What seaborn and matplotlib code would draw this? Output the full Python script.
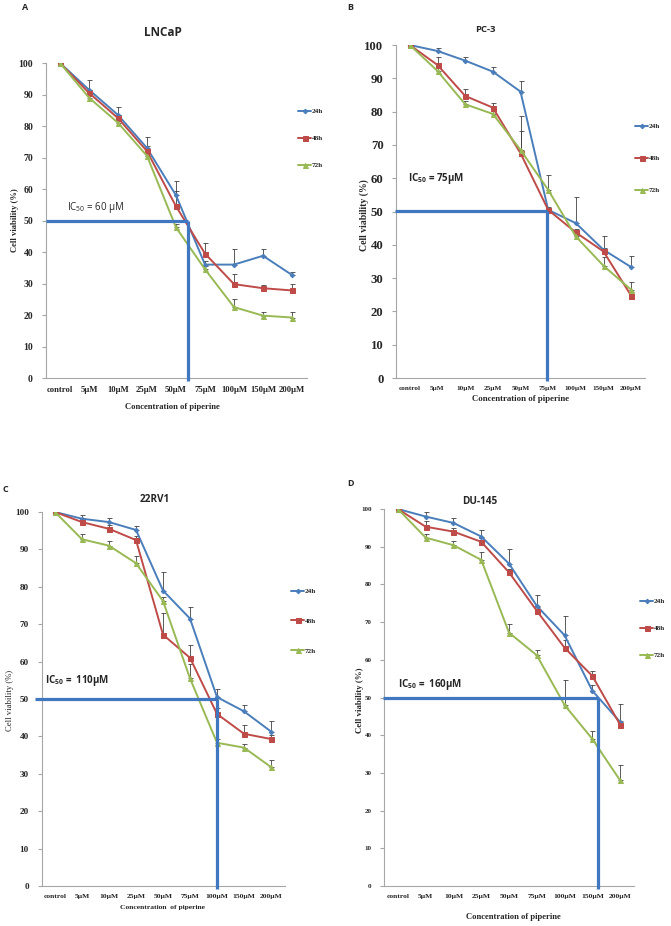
import numpy as np
import pandas as pd
import seaborn as sns
import matplotlib.pyplot as plt

# concentrations on the x axis
concs = ['control', '5µM', '10µM', '25µM', '50µM', '75µM', '100µM', '150µM', '200µM']
times = ['24h', '48h', '72h']

# cell viability (%), one list per time point
lncap_24 = [100, 91.5, 83.5, 73, 58, 36, 36, 38.8, 32.7]
lncap_48 = [100, 90.5, 82.5, 72, 54.5, 39.5, 29.8, 28.5, 27.8]
lncap_72 = [100, 89, 81, 70.5, 47.8, 34.5, 22.5, 19.8, 19.2]
lncap_err_24 = [0.5, 3, 2.5, 3.5, 4.5, 1, 5, 2, 1]
lncap_err_48 = [0.5, 1, 1, 1.5, 5, 3.2, 3.2, 1, 2.2]
lncap_err_72 = [0.5, 1, 1, 1, 1, 1, 2.5, 1.2, 1.8]

pc3_24 = [100, 98.2, 95.3, 92, 86, 50.5, 46.5, 38.5, 33.3]
pc3_48 = [100, 94, 84.7, 81.2, 67.5, 50.5, 43.7, 38, 24.7]
pc3_72 = [100, 92.2, 82.2, 79.3, 68.5, 56.5, 42.5, 33.7, 26.5]
pc3_err_24 = [0.3, 0.8, 1, 1.5, 3.2, 0.5, 7.8, 4, 3.2]
pc3_err_48 = [0.5, 2.5, 2, 1.5, 6.8, 1, 1, 1, 1]
pc3_err_72 = [0.5, 1, 1, 1, 10.3, 4.5, 1, 2.5, 2.2]

rv1_24 = [100, 98.2, 97.3, 95.2, 79, 71.5, 50.5, 46.7, 41.3]
rv1_48 = [100, 97.3, 95.5, 92.5, 67.2, 61, 46, 40.7, 39.3]
rv1_72 = [100, 92.7, 91, 86.3, 76.2, 55.5, 38.3, 37, 31.8]
rv1_err_24 = [0.5, 1, 1.2, 1, 5, 3.2, 2.2, 1.6, 2.9]
rv1_err_48 = [0.5, 1, 1, 1, 5.8, 3.5, 1.5, 2.3, 1]
rv1_err_72 = [0.5, 1.5, 1.3, 2, 1, 3.8, 1, 1, 2]

du_24 = [100, 98, 96.3, 92.7, 85.5, 74.3, 66.5, 51.8, 43.5]
du_48 = [100, 95.3, 94, 91.3, 83.2, 73, 63.2, 55.7, 42.8]
du_72 = [100, 92.4, 90.4, 86.5, 67.2, 61.2, 48, 39, 28]
du_err_24 = [0.3, 1.3, 1.2, 1.8, 4, 2.8, 5.2, 1.5, 4.7]
du_err_48 = [0.3, 1.5, 1, 1, 1, 1, 2, 1.3, 1]
du_err_72 = [0.3, 1, 1.2, 2, 2.3, 1.3, 6.6, 2.2, 4.2]

# IC50 guide: x position (category index) and viability level
ic50_x = [4.41, 4.96, 6.0, 7.2]
ic50_y = [49.7, 50.2, 50, 50]
ic50_text = [r'IC$_{\mathregular{50}}$ = 60 µM', r'IC$_{\mathregular{50}}$ = 75µM',
             r'IC$_{\mathregular{50}}$ =  110µM', r'IC$_{\mathregular{50}}$ =  160µM']
cell_lines = ['LNCaP', 'PC-3', '22RV1', 'DU-145']
letters = ['A', 'B', 'C', 'D']

W, H = 671, 926
sns.set_style('white')
plt.rcParams['font.family'] = ['Liberation Serif', 'DejaVu Serif']
plt.rcParams['mathtext.fontset'] = 'custom'

colors = {'24h': '#4A7EBB', '48h': '#BE4B48', '72h': '#98B954'}
markers = {'24h': 'D', '48h': 's', '72h': '^'}
msize = {'24h': 2.3, '48h': 3.6, '72h': 3.6}

fig = plt.figure(figsize=(W / 100, H / 100), dpi=100)

# per panel layout in pixels: left, right, top(y=100), bottom(y=0)
panels = [
    dict(box=(45.5, 306.5, 63, 378), ytick=7, xtick=6.2, title=8.5, tpos=(163, 33), lpos=(25, 8),
         ylab=(15, 220), ylabsize=6.2, xlab=(172, 407), xlabsize=6.2, itxt=(67, 207), iw='normal',
         leg=(298, 113), legsp=2.9, legsize=5.2, hstart=-0.5),
    dict(box=(396, 645, 45, 378), ytick=9.2, xtick=5.2, title=6.8, tpos=(485, 29), lpos=(350, 8),
         ylab=(364, 215), ylabsize=7, xlab=(521, 399), xlabsize=6.3, itxt=(408, 178), iw='bold',
         leg=(635, 128), legsp=3.6, legsize=5.2, hstart=-0.55),
    dict(box=(41.5, 284.5, 512, 886), ytick=6.6, xtick=5.4, title=7.2, tpos=(155, 500), lpos=(5, 490),
         ylab=(10, 700), ylabsize=6.2, xlab=(163, 908), xlabsize=5.4, itxt=(45, 680), iw='bold',
         leg=(291, 593), legsp=3.3, legsize=5.2, hstart=-0.75),
    dict(box=(384, 634, 509, 886), ytick=5, xtick=5.4, title=7.2, tpos=(480, 502), lpos=(350, 483),
         ylab=(360, 700), ylabsize=6.4, xlab=(513, 917), xlabsize=6.2, itxt=(398, 684), iw='bold',
         leg=(640, 603), legsp=2.9, legsize=5.2, hstart=-0.52),
]

series = [
    (lncap_24, lncap_48, lncap_72, lncap_err_24, lncap_err_48, lncap_err_72),
    (pc3_24, pc3_48, pc3_72, pc3_err_24, pc3_err_48, pc3_err_72),
    (rv1_24, rv1_48, rv1_72, rv1_err_24, rv1_err_48, rv1_err_72),
    (du_24, du_48, du_72, du_err_24, du_err_48, du_err_72),
]

for i, p in enumerate(panels):
    l, r, t, b = p['box']
    ax = fig.add_axes([l / W, 1 - b / H, (r - l) / W, (b - t) / H])
    v24, v48, v72, e24, e48, e72 = series[i]
    df = pd.DataFrame({
        'x': list(range(len(concs))) * 3,
        'viability': v24 + v48 + v72,
        'err': e24 + e48 + e72,
        'time': [tm for tm in times for _ in concs],
    })

    # error bars (upper side), drawn below the lines
    for tm in times:
        d = df[df['time'] == tm]
        ax.errorbar(d['x'], d['viability'], yerr=[np.zeros(len(d)), d['err']], fmt='none',
                    ecolor='#404040', elinewidth=0.6, capsize=1.8, capthick=0.6, zorder=2)

    for tm in times:
        d = df[df['time'] == tm]
        sns.lineplot(data=d, x='x', y='viability', ax=ax, color=colors[tm], marker=markers[tm],
                     markersize=msize[tm], markeredgecolor=colors[tm], linewidth=1.4,
                     label=tm, zorder=3)

    # IC50 guide lines
    ax.plot([p['hstart'], ic50_x[i]], [ic50_y[i], ic50_y[i]], color='#3F78C0', lw=2.3,
            clip_on=False, zorder=4, solid_capstyle='butt')
    ax.plot([ic50_x[i], ic50_x[i]], [ic50_y[i], -0.9], color='#3F78C0', lw=2.3,
            clip_on=False, zorder=4, solid_capstyle='butt')

    ax.set_xlim(-0.5, len(concs) - 0.5)
    ax.set_ylim(0, 100)
    ax.set_yticks(range(0, 101, 10))
    ax.set_xticks(range(len(concs)))
    ax.set_xticklabels(concs)
    ax.tick_params(axis='y', labelsize=p['ytick'], length=3, width=0.8, color='#A6A6A6',
                   direction='out', left=True, pad=6)
    ax.tick_params(axis='x', labelsize=p['xtick'], length=0, pad=6)
    for lab in ax.get_xticklabels() + ax.get_yticklabels():
        lab.set_fontweight('bold')
    ax.set_xlabel('')
    ax.set_ylabel('')
    sns.despine(ax=ax)
    for s in ['left', 'bottom']:
        ax.spines[s].set_color('#A6A6A6')
        ax.spines[s].set_linewidth(0.8)

    ax.text((p['itxt'][0] - l) / (r - l), 1 - (p['itxt'][1] - t) / (b - t), ic50_text[i],
            transform=ax.transAxes, fontsize=7, family=['Open Sans', 'DejaVu Sans'],
            fontweight=p['iw'], va='center', ha='left')

    leg = ax.legend(loc='upper left', bbox_to_anchor=(p['leg'][0] / W, 1 - (p['leg'][1] - 5) / H),
                    bbox_transform=fig.transFigure, frameon=False, handlelength=1.8,
                    handletextpad=0.1, labelspacing=p['legsp'], borderaxespad=0, borderpad=0,
                    prop={'size': p['legsize'], 'weight': 'bold'})

    fig.text(p['tpos'][0] / W, 1 - p['tpos'][1] / H, cell_lines[i], ha='center', va='center',
             fontsize=p['title'], fontweight='bold', family=['Open Sans', 'DejaVu Sans'])
    fig.text(p['lpos'][0] / W, 1 - p['lpos'][1] / H, letters[i], ha='center', va='center',
             fontsize=6.5, fontweight='bold', family=['Open Sans', 'DejaVu Sans'])
    fig.text(p['ylab'][0] / W, 1 - p['ylab'][1] / H, 'Cell viability (%)', ha='center', va='center',
             rotation=90, fontsize=p['ylabsize'], fontweight='bold' if i != 2 else 'normal')
    fig.text(p['xlab'][0] / W, 1 - p['xlab'][1] / H,
             'Concentration  of piperine' if i == 2 else 'Concentration of piperine',
             ha='center', va='center', fontsize=p['xlabsize'], fontweight='bold')

fig.savefig('out.png', dpi=100)
